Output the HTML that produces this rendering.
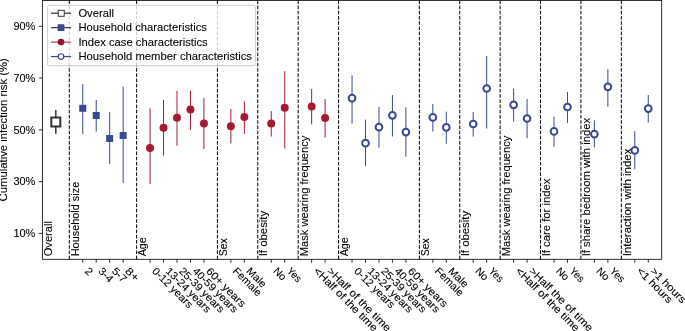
<!DOCTYPE html>
<html><head><meta charset="utf-8"><style>
html,body{margin:0;padding:0;background:#fff;overflow:hidden}
svg{display:block}
text{fill:#000;stroke:#000;stroke-width:0.1px}
</style></head><body>
<svg width="685" height="331" viewBox="0 0 685 331" font-family="Liberation Sans, sans-serif" font-size="10.5">
<rect width="685" height="331" fill="#fff"/>
<line x1="69.29" y1="259.29" x2="69.29" y2="0.41" stroke="#000" stroke-width="1" stroke-dasharray="3.64 1.57"/>
<line x1="136.61" y1="259.29" x2="136.61" y2="0.41" stroke="#000" stroke-width="1" stroke-dasharray="3.64 1.57"/>
<line x1="217.40" y1="259.29" x2="217.40" y2="0.41" stroke="#000" stroke-width="1" stroke-dasharray="3.64 1.57"/>
<line x1="257.79" y1="259.29" x2="257.79" y2="0.41" stroke="#000" stroke-width="1" stroke-dasharray="3.64 1.57"/>
<line x1="298.18" y1="259.29" x2="298.18" y2="0.41" stroke="#000" stroke-width="1" stroke-dasharray="3.64 1.57"/>
<line x1="338.58" y1="259.29" x2="338.58" y2="0.41" stroke="#000" stroke-width="1" stroke-dasharray="3.64 1.57"/>
<line x1="419.36" y1="259.29" x2="419.36" y2="0.41" stroke="#000" stroke-width="1" stroke-dasharray="3.64 1.57"/>
<line x1="459.75" y1="259.29" x2="459.75" y2="0.41" stroke="#000" stroke-width="1" stroke-dasharray="3.64 1.57"/>
<line x1="500.15" y1="259.29" x2="500.15" y2="0.41" stroke="#000" stroke-width="1" stroke-dasharray="3.64 1.57"/>
<line x1="540.54" y1="259.29" x2="540.54" y2="0.41" stroke="#000" stroke-width="1" stroke-dasharray="3.64 1.57"/>
<line x1="580.93" y1="259.29" x2="580.93" y2="0.41" stroke="#000" stroke-width="1" stroke-dasharray="3.64 1.57"/>
<line x1="621.33" y1="259.29" x2="621.33" y2="0.41" stroke="#000" stroke-width="1" stroke-dasharray="3.64 1.57"/>
<line x1="55.82" y1="110.00" x2="55.82" y2="133.80" stroke="#333333" stroke-width="1.5"/>
<rect x="51.32" y="117.50" width="9" height="9" fill="#fff" stroke="#333333" stroke-width="2"/>
<line x1="82.75" y1="84.20" x2="82.75" y2="134.10" stroke="#3B4992" stroke-width="1.0"/>
<rect x="79.25" y="104.80" width="7" height="7" fill="#3B4992"/>
<line x1="96.22" y1="100.00" x2="96.22" y2="131.60" stroke="#3B4992" stroke-width="1.0"/>
<rect x="92.72" y="112.00" width="7" height="7" fill="#3B4992"/>
<line x1="109.68" y1="112.10" x2="109.68" y2="164.10" stroke="#3B4992" stroke-width="1.0"/>
<rect x="106.18" y="135.00" width="7" height="7" fill="#3B4992"/>
<line x1="123.15" y1="86.60" x2="123.15" y2="182.90" stroke="#3B4992" stroke-width="1.0"/>
<rect x="119.65" y="132.00" width="7" height="7" fill="#3B4992"/>
<line x1="150.07" y1="108.30" x2="150.07" y2="184.10" stroke="#A51C30" stroke-width="1.0"/>
<circle cx="150.07" cy="147.90" r="4" fill="#A51C30"/>
<line x1="163.54" y1="99.90" x2="163.54" y2="155.60" stroke="#A51C30" stroke-width="1.0"/>
<circle cx="163.54" cy="127.70" r="4" fill="#A51C30"/>
<line x1="177.00" y1="91.00" x2="177.00" y2="145.80" stroke="#A51C30" stroke-width="1.0"/>
<circle cx="177.00" cy="117.80" r="4" fill="#A51C30"/>
<line x1="190.47" y1="90.60" x2="190.47" y2="129.90" stroke="#A51C30" stroke-width="1.0"/>
<circle cx="190.47" cy="109.60" r="4" fill="#A51C30"/>
<line x1="203.93" y1="97.90" x2="203.93" y2="149.10" stroke="#A51C30" stroke-width="1.0"/>
<circle cx="203.93" cy="123.40" r="4" fill="#A51C30"/>
<line x1="230.86" y1="109.00" x2="230.86" y2="143.50" stroke="#A51C30" stroke-width="1.0"/>
<circle cx="230.86" cy="126.30" r="4" fill="#A51C30"/>
<line x1="244.33" y1="101.40" x2="244.33" y2="133.80" stroke="#A51C30" stroke-width="1.0"/>
<circle cx="244.33" cy="117.00" r="4" fill="#A51C30"/>
<line x1="271.25" y1="111.10" x2="271.25" y2="136.50" stroke="#A51C30" stroke-width="1.0"/>
<circle cx="271.25" cy="123.60" r="4" fill="#A51C30"/>
<line x1="284.72" y1="71.10" x2="284.72" y2="148.70" stroke="#A51C30" stroke-width="1.0"/>
<circle cx="284.72" cy="107.70" r="4" fill="#A51C30"/>
<line x1="311.65" y1="89.00" x2="311.65" y2="124.40" stroke="#A51C30" stroke-width="1.0"/>
<circle cx="311.65" cy="106.50" r="4" fill="#A51C30"/>
<line x1="325.11" y1="99.00" x2="325.11" y2="137.50" stroke="#A51C30" stroke-width="1.0"/>
<circle cx="325.11" cy="118.00" r="4" fill="#A51C30"/>
<line x1="352.04" y1="75.30" x2="352.04" y2="123.50" stroke="#3B4992" stroke-width="1.0"/>
<circle cx="352.04" cy="98.20" r="3.35" fill="#fff" stroke="#3B4992" stroke-width="2"/>
<line x1="365.50" y1="119.60" x2="365.50" y2="166.00" stroke="#3B4992" stroke-width="1.0"/>
<circle cx="365.50" cy="143.20" r="3.35" fill="#fff" stroke="#3B4992" stroke-width="2"/>
<line x1="378.97" y1="107.00" x2="378.97" y2="147.70" stroke="#3B4992" stroke-width="1.0"/>
<circle cx="378.97" cy="127.20" r="3.35" fill="#fff" stroke="#3B4992" stroke-width="2"/>
<line x1="392.43" y1="95.10" x2="392.43" y2="136.50" stroke="#3B4992" stroke-width="1.0"/>
<circle cx="392.43" cy="115.30" r="3.35" fill="#fff" stroke="#3B4992" stroke-width="2"/>
<line x1="405.90" y1="107.30" x2="405.90" y2="156.60" stroke="#3B4992" stroke-width="1.0"/>
<circle cx="405.90" cy="132.10" r="3.35" fill="#fff" stroke="#3B4992" stroke-width="2"/>
<line x1="432.83" y1="104.00" x2="432.83" y2="131.60" stroke="#3B4992" stroke-width="1.0"/>
<circle cx="432.83" cy="117.40" r="3.35" fill="#fff" stroke="#3B4992" stroke-width="2"/>
<line x1="446.29" y1="111.70" x2="446.29" y2="143.80" stroke="#3B4992" stroke-width="1.0"/>
<circle cx="446.29" cy="127.40" r="3.35" fill="#fff" stroke="#3B4992" stroke-width="2"/>
<line x1="473.22" y1="111.90" x2="473.22" y2="136.60" stroke="#3B4992" stroke-width="1.0"/>
<circle cx="473.22" cy="124.00" r="3.35" fill="#fff" stroke="#3B4992" stroke-width="2"/>
<line x1="486.68" y1="56.00" x2="486.68" y2="128.50" stroke="#3B4992" stroke-width="1.0"/>
<circle cx="486.68" cy="88.50" r="3.35" fill="#fff" stroke="#3B4992" stroke-width="2"/>
<line x1="513.61" y1="88.70" x2="513.61" y2="121.60" stroke="#3B4992" stroke-width="1.0"/>
<circle cx="513.61" cy="104.80" r="3.35" fill="#fff" stroke="#3B4992" stroke-width="2"/>
<line x1="527.08" y1="99.00" x2="527.08" y2="138.30" stroke="#3B4992" stroke-width="1.0"/>
<circle cx="527.08" cy="118.50" r="3.35" fill="#fff" stroke="#3B4992" stroke-width="2"/>
<line x1="554.01" y1="116.60" x2="554.01" y2="146.80" stroke="#3B4992" stroke-width="1.0"/>
<circle cx="554.01" cy="131.40" r="3.35" fill="#fff" stroke="#3B4992" stroke-width="2"/>
<line x1="567.47" y1="91.90" x2="567.47" y2="122.90" stroke="#3B4992" stroke-width="1.0"/>
<circle cx="567.47" cy="107.00" r="3.35" fill="#fff" stroke="#3B4992" stroke-width="2"/>
<line x1="594.40" y1="120.40" x2="594.40" y2="147.40" stroke="#3B4992" stroke-width="1.0"/>
<circle cx="594.40" cy="134.10" r="3.35" fill="#fff" stroke="#3B4992" stroke-width="2"/>
<line x1="607.86" y1="69.10" x2="607.86" y2="106.70" stroke="#3B4992" stroke-width="1.0"/>
<circle cx="607.86" cy="86.80" r="3.35" fill="#fff" stroke="#3B4992" stroke-width="2"/>
<line x1="634.79" y1="131.00" x2="634.79" y2="169.30" stroke="#3B4992" stroke-width="1.0"/>
<circle cx="634.79" cy="150.40" r="3.35" fill="#fff" stroke="#3B4992" stroke-width="2"/>
<line x1="648.26" y1="95.00" x2="648.26" y2="122.50" stroke="#3B4992" stroke-width="1.0"/>
<circle cx="648.26" cy="108.60" r="3.35" fill="#fff" stroke="#3B4992" stroke-width="2"/>













<rect x="47.4" y="5.3" width="208.0" height="60.4" rx="2" fill="#fff" fill-opacity="0.8" stroke="#ccc" stroke-width="1"/>
<line x1="51" y1="13.20" x2="71" y2="13.20" stroke="#333333" stroke-width="1.2"/>
<rect x="58.2" y="10.30" width="6" height="6" fill="#fff" stroke="#333333" stroke-width="1.0"/>

<line x1="51" y1="27.65" x2="71" y2="27.65" stroke="#333333" stroke-width="1.2"/>
<rect x="57.6" y="24.25" width="6.8" height="6.8" fill="#3B4992"/>

<line x1="51" y1="42.10" x2="71" y2="42.10" stroke="#B5404F" stroke-width="1.2"/>
<circle cx="61" cy="42.10" r="3.3" fill="#921530"/>

<line x1="51" y1="56.55" x2="71" y2="56.55" stroke="#3B4992" stroke-width="1.2"/>
<circle cx="61" cy="56.55" r="2.8" fill="#fff" stroke="#3B4992" stroke-width="1.2"/>

<rect x="42.36" y="0.41" width="619.36" height="258.88" fill="none" stroke="#000" stroke-width="0.8"/>
<line x1="38.86" y1="233.40" x2="42.36" y2="233.40" stroke="#000" stroke-width="0.8"/>

<line x1="38.86" y1="181.63" x2="42.36" y2="181.63" stroke="#000" stroke-width="0.8"/>

<line x1="38.86" y1="129.85" x2="42.36" y2="129.85" stroke="#000" stroke-width="0.8"/>

<line x1="38.86" y1="78.07" x2="42.36" y2="78.07" stroke="#000" stroke-width="0.8"/>

<line x1="38.86" y1="26.30" x2="42.36" y2="26.30" stroke="#000" stroke-width="0.8"/>

<line x1="82.75" y1="259.29" x2="82.75" y2="262.79" stroke="#000" stroke-width="0.8"/>

<line x1="96.22" y1="259.29" x2="96.22" y2="262.79" stroke="#000" stroke-width="0.8"/>

<line x1="109.68" y1="259.29" x2="109.68" y2="262.79" stroke="#000" stroke-width="0.8"/>

<line x1="123.15" y1="259.29" x2="123.15" y2="262.79" stroke="#000" stroke-width="0.8"/>

<line x1="150.07" y1="259.29" x2="150.07" y2="262.79" stroke="#000" stroke-width="0.8"/>

<line x1="163.54" y1="259.29" x2="163.54" y2="262.79" stroke="#000" stroke-width="0.8"/>

<line x1="177.00" y1="259.29" x2="177.00" y2="262.79" stroke="#000" stroke-width="0.8"/>

<line x1="190.47" y1="259.29" x2="190.47" y2="262.79" stroke="#000" stroke-width="0.8"/>

<line x1="203.93" y1="259.29" x2="203.93" y2="262.79" stroke="#000" stroke-width="0.8"/>

<line x1="230.86" y1="259.29" x2="230.86" y2="262.79" stroke="#000" stroke-width="0.8"/>

<line x1="244.33" y1="259.29" x2="244.33" y2="262.79" stroke="#000" stroke-width="0.8"/>

<line x1="271.25" y1="259.29" x2="271.25" y2="262.79" stroke="#000" stroke-width="0.8"/>

<line x1="284.72" y1="259.29" x2="284.72" y2="262.79" stroke="#000" stroke-width="0.8"/>

<line x1="311.65" y1="259.29" x2="311.65" y2="262.79" stroke="#000" stroke-width="0.8"/>

<line x1="325.11" y1="259.29" x2="325.11" y2="262.79" stroke="#000" stroke-width="0.8"/>

<line x1="352.04" y1="259.29" x2="352.04" y2="262.79" stroke="#000" stroke-width="0.8"/>

<line x1="365.50" y1="259.29" x2="365.50" y2="262.79" stroke="#000" stroke-width="0.8"/>

<line x1="378.97" y1="259.29" x2="378.97" y2="262.79" stroke="#000" stroke-width="0.8"/>

<line x1="392.43" y1="259.29" x2="392.43" y2="262.79" stroke="#000" stroke-width="0.8"/>

<line x1="405.90" y1="259.29" x2="405.90" y2="262.79" stroke="#000" stroke-width="0.8"/>

<line x1="432.83" y1="259.29" x2="432.83" y2="262.79" stroke="#000" stroke-width="0.8"/>

<line x1="446.29" y1="259.29" x2="446.29" y2="262.79" stroke="#000" stroke-width="0.8"/>

<line x1="473.22" y1="259.29" x2="473.22" y2="262.79" stroke="#000" stroke-width="0.8"/>

<line x1="486.68" y1="259.29" x2="486.68" y2="262.79" stroke="#000" stroke-width="0.8"/>

<line x1="513.61" y1="259.29" x2="513.61" y2="262.79" stroke="#000" stroke-width="0.8"/>

<line x1="527.08" y1="259.29" x2="527.08" y2="262.79" stroke="#000" stroke-width="0.8"/>

<line x1="554.01" y1="259.29" x2="554.01" y2="262.79" stroke="#000" stroke-width="0.8"/>

<line x1="567.47" y1="259.29" x2="567.47" y2="262.79" stroke="#000" stroke-width="0.8"/>

<line x1="594.40" y1="259.29" x2="594.40" y2="262.79" stroke="#000" stroke-width="0.8"/>

<line x1="607.86" y1="259.29" x2="607.86" y2="262.79" stroke="#000" stroke-width="0.8"/>

<line x1="634.79" y1="259.29" x2="634.79" y2="262.79" stroke="#000" stroke-width="0.8"/>

<line x1="648.26" y1="259.29" x2="648.26" y2="262.79" stroke="#000" stroke-width="0.8"/>


<g opacity="0.999"><text x="51.76" y="256.30" textLength="35.27" lengthAdjust="spacingAndGlyphs" text-anchor="start" transform="rotate(-90 51.76 256.30)">Overall</text><text x="78.69" y="256.30" textLength="74.51" lengthAdjust="spacingAndGlyphs" text-anchor="start" transform="rotate(-90 78.69 256.30)">Household size</text><text x="146.01" y="256.30" textLength="19.09" lengthAdjust="spacingAndGlyphs" text-anchor="start" transform="rotate(-90 146.01 256.30)">Age</text><text x="226.80" y="256.30" textLength="18.01" lengthAdjust="spacingAndGlyphs" text-anchor="start" transform="rotate(-90 226.80 256.30)">Sex</text><text x="267.19" y="256.30" textLength="45.49" lengthAdjust="spacingAndGlyphs" text-anchor="start" transform="rotate(-90 267.19 256.30)">If obesity</text><text x="307.58" y="256.30" textLength="120.71" lengthAdjust="spacingAndGlyphs" text-anchor="start" transform="rotate(-90 307.58 256.30)">Mask wearing frequency</text><text x="347.98" y="256.30" textLength="19.09" lengthAdjust="spacingAndGlyphs" text-anchor="start" transform="rotate(-90 347.98 256.30)">Age</text><text x="428.76" y="256.30" textLength="18.01" lengthAdjust="spacingAndGlyphs" text-anchor="start" transform="rotate(-90 428.76 256.30)">Sex</text><text x="469.15" y="256.30" textLength="45.49" lengthAdjust="spacingAndGlyphs" text-anchor="start" transform="rotate(-90 469.15 256.30)">If obesity</text><text x="509.55" y="256.30" textLength="120.71" lengthAdjust="spacingAndGlyphs" text-anchor="start" transform="rotate(-90 509.55 256.30)">Mask wearing frequency</text><text x="549.94" y="256.30" textLength="77.76" lengthAdjust="spacingAndGlyphs" text-anchor="start" transform="rotate(-90 549.94 256.30)">If care for index</text><text x="590.33" y="256.30" textLength="138.37" lengthAdjust="spacingAndGlyphs" text-anchor="start" transform="rotate(-90 590.33 256.30)">If share bedroom with index</text><text x="630.73" y="256.30" textLength="107.77" lengthAdjust="spacingAndGlyphs" text-anchor="start" transform="rotate(-90 630.73 256.30)">Interaction with index</text><text x="78.40" y="16.70" textLength="35.49" lengthAdjust="spacingAndGlyphs" text-anchor="start">Overall</text><text x="78.40" y="31.15" textLength="128.47" lengthAdjust="spacingAndGlyphs" text-anchor="start">Household characteristics</text><text x="78.40" y="45.60" textLength="129.25" lengthAdjust="spacingAndGlyphs" text-anchor="start">Index case characteristics</text><text x="78.40" y="60.05" textLength="173.58" lengthAdjust="spacingAndGlyphs" text-anchor="start">Household member characteristics</text><text x="13.42" y="237.05" textLength="21.94" lengthAdjust="spacingAndGlyphs" text-anchor="start">10%</text><text x="13.42" y="185.27" textLength="21.94" lengthAdjust="spacingAndGlyphs" text-anchor="start">30%</text><text x="13.42" y="133.50" textLength="21.94" lengthAdjust="spacingAndGlyphs" text-anchor="start">50%</text><text x="13.42" y="81.72" textLength="21.94" lengthAdjust="spacingAndGlyphs" text-anchor="start">70%</text><text x="13.42" y="29.94" textLength="21.94" lengthAdjust="spacingAndGlyphs" text-anchor="start">90%</text><text x="84.22" y="271.66" textLength="6.28" lengthAdjust="spacingAndGlyphs" text-anchor="start" transform="rotate(45 84.22 271.66)">2</text><text x="97.69" y="271.66" textLength="16.12" lengthAdjust="spacingAndGlyphs" text-anchor="start" transform="rotate(45 97.69 271.66)">3-4</text><text x="111.15" y="271.66" textLength="16.12" lengthAdjust="spacingAndGlyphs" text-anchor="start" transform="rotate(45 111.15 271.66)">5-7</text><text x="124.62" y="271.66" textLength="14.55" lengthAdjust="spacingAndGlyphs" text-anchor="start" transform="rotate(45 124.62 271.66)">8+</text><text x="151.54" y="271.66" textLength="52.70" lengthAdjust="spacingAndGlyphs" text-anchor="start" transform="rotate(45 151.54 271.66)">0-12 years</text><text x="165.01" y="271.66" textLength="58.98" lengthAdjust="spacingAndGlyphs" text-anchor="start" transform="rotate(45 165.01 271.66)">13-24 years</text><text x="178.47" y="271.66" textLength="58.98" lengthAdjust="spacingAndGlyphs" text-anchor="start" transform="rotate(45 178.47 271.66)">25-39 years</text><text x="191.94" y="271.66" textLength="58.98" lengthAdjust="spacingAndGlyphs" text-anchor="start" transform="rotate(45 191.94 271.66)">40-59 years</text><text x="205.40" y="271.66" textLength="51.13" lengthAdjust="spacingAndGlyphs" text-anchor="start" transform="rotate(45 205.40 271.66)">60+ years</text><text x="232.33" y="271.66" textLength="35.69" lengthAdjust="spacingAndGlyphs" text-anchor="start" transform="rotate(45 232.33 271.66)">Female</text><text x="245.80" y="271.66" textLength="23.38" lengthAdjust="spacingAndGlyphs" text-anchor="start" transform="rotate(45 245.80 271.66)">Male</text><text x="272.72" y="271.66" textLength="13.42" lengthAdjust="spacingAndGlyphs" text-anchor="start" transform="rotate(45 272.72 271.66)">No</text><text x="286.19" y="271.66" textLength="15.93" lengthAdjust="spacingAndGlyphs" text-anchor="start" transform="rotate(45 286.19 271.66)">Yes</text><text x="313.12" y="271.66" textLength="85.38" lengthAdjust="spacingAndGlyphs" text-anchor="start" transform="rotate(45 313.12 271.66)">&lt;Half of the time</text><text x="326.58" y="271.66" textLength="85.38" lengthAdjust="spacingAndGlyphs" text-anchor="start" transform="rotate(45 326.58 271.66)">&gt;Half of the time</text><text x="353.51" y="271.66" textLength="52.70" lengthAdjust="spacingAndGlyphs" text-anchor="start" transform="rotate(45 353.51 271.66)">0-12 years</text><text x="366.97" y="271.66" textLength="58.98" lengthAdjust="spacingAndGlyphs" text-anchor="start" transform="rotate(45 366.97 271.66)">13-24 years</text><text x="380.44" y="271.66" textLength="58.98" lengthAdjust="spacingAndGlyphs" text-anchor="start" transform="rotate(45 380.44 271.66)">25-39 years</text><text x="393.90" y="271.66" textLength="58.98" lengthAdjust="spacingAndGlyphs" text-anchor="start" transform="rotate(45 393.90 271.66)">40-59 years</text><text x="407.37" y="271.66" textLength="51.13" lengthAdjust="spacingAndGlyphs" text-anchor="start" transform="rotate(45 407.37 271.66)">60+ years</text><text x="434.30" y="271.66" textLength="35.69" lengthAdjust="spacingAndGlyphs" text-anchor="start" transform="rotate(45 434.30 271.66)">Female</text><text x="447.76" y="271.66" textLength="23.38" lengthAdjust="spacingAndGlyphs" text-anchor="start" transform="rotate(45 447.76 271.66)">Male</text><text x="474.69" y="271.66" textLength="13.42" lengthAdjust="spacingAndGlyphs" text-anchor="start" transform="rotate(45 474.69 271.66)">No</text><text x="488.15" y="271.66" textLength="15.93" lengthAdjust="spacingAndGlyphs" text-anchor="start" transform="rotate(45 488.15 271.66)">Yes</text><text x="515.08" y="271.66" textLength="85.38" lengthAdjust="spacingAndGlyphs" text-anchor="start" transform="rotate(45 515.08 271.66)">&lt;Half of the time</text><text x="528.55" y="271.66" textLength="85.38" lengthAdjust="spacingAndGlyphs" text-anchor="start" transform="rotate(45 528.55 271.66)">&gt;Half the of time</text><text x="555.48" y="271.66" textLength="13.42" lengthAdjust="spacingAndGlyphs" text-anchor="start" transform="rotate(45 555.48 271.66)">No</text><text x="568.94" y="271.66" textLength="15.93" lengthAdjust="spacingAndGlyphs" text-anchor="start" transform="rotate(45 568.94 271.66)">Yes</text><text x="595.87" y="271.66" textLength="13.42" lengthAdjust="spacingAndGlyphs" text-anchor="start" transform="rotate(45 595.87 271.66)">No</text><text x="609.33" y="271.66" textLength="15.93" lengthAdjust="spacingAndGlyphs" text-anchor="start" transform="rotate(45 609.33 271.66)">Yes</text><text x="636.26" y="271.66" textLength="45.44" lengthAdjust="spacingAndGlyphs" text-anchor="start" transform="rotate(45 636.26 271.66)">&lt;1 hours</text><text x="649.73" y="271.66" textLength="45.44" lengthAdjust="spacingAndGlyphs" text-anchor="start" transform="rotate(45 649.73 271.66)">&gt;1 hours</text><text x="7.40" y="201.48" textLength="143.36" lengthAdjust="spacingAndGlyphs" text-anchor="start" transform="rotate(-90 7.40 201.48)">Cumulative infection risk (%)</text></g>
</svg>
</body></html>
